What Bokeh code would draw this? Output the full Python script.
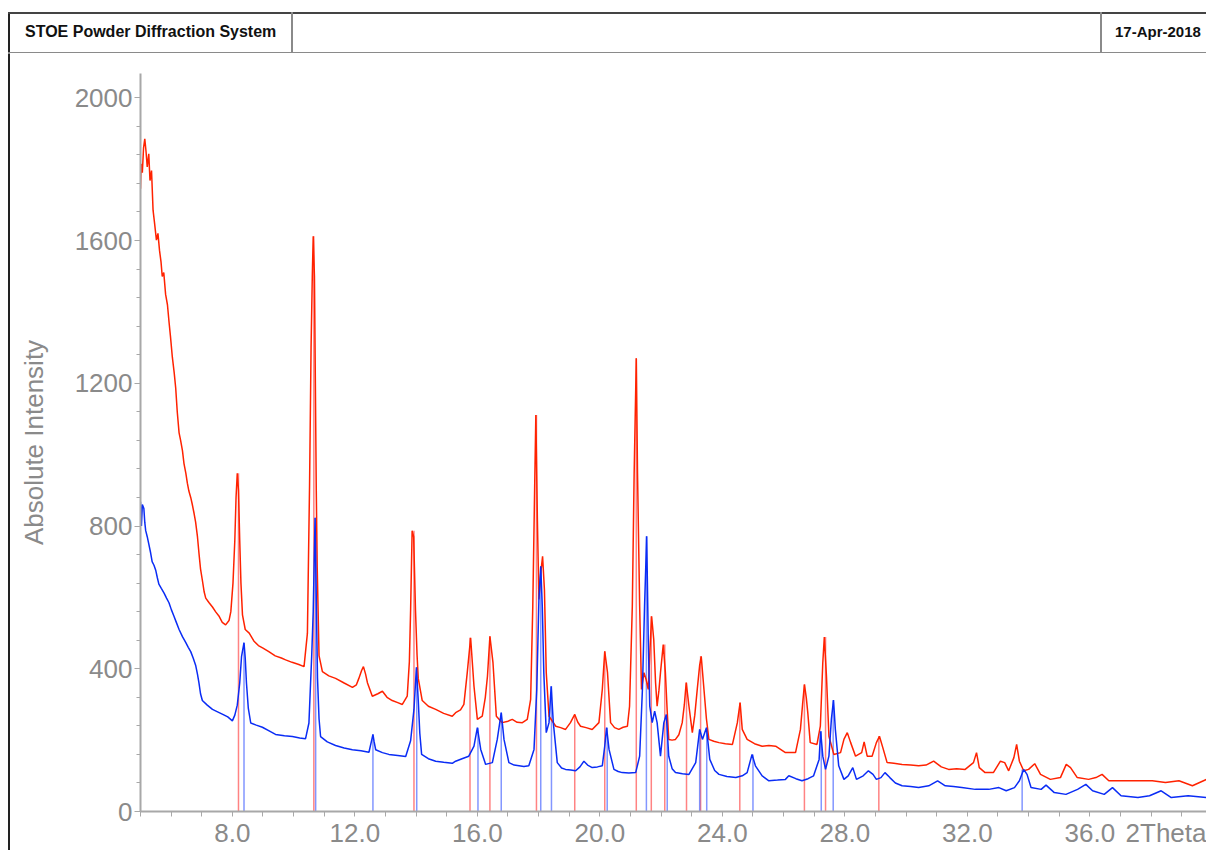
from bokeh.plotting import figure
from bokeh.models import Range1d, FixedTicker, PrintfTickFormatter, Div
from bokeh.layouts import row, column
from bokeh.embed import file_html
from bokeh.resources import INLINE

# ---------------- data ----------------
red_x = [5.00, 5.02, 5.06, 5.10, 5.14, 5.18, 5.22, 5.27, 5.31, 5.36, 5.41, 5.46, 5.52, 5.57, 5.62, 5.67,
         5.71, 5.76, 5.82, 5.88, 5.93, 5.98, 6.04, 6.10, 6.15, 6.20, 6.26, 6.31, 6.37, 6.42, 6.48, 6.53,
         6.58, 6.64, 6.69, 6.75, 6.80, 6.86, 6.91, 6.96, 7.02, 7.08, 7.13, 7.24, 7.35, 7.45, 7.56, 7.67,
         7.78, 7.89, 7.95, 8.02, 8.08, 8.12, 8.16, 8.20, 8.24, 8.28, 8.33, 8.42, 8.55, 8.70, 8.85, 9.00,
         9.19, 9.40, 9.60, 9.74, 9.95, 10.17, 10.34, 10.45, 10.52, 10.57, 10.61, 10.64, 10.68, 10.71, 10.74,
         10.77, 10.83, 10.94, 11.15, 11.37, 11.65, 11.92, 12.05, 12.13, 12.22, 12.28, 12.35, 12.41, 12.57,
         12.75, 12.90, 13.05, 13.22, 13.40, 13.55, 13.71, 13.78, 13.82, 13.87, 13.92, 13.98, 14.03, 14.07,
         14.20, 14.40, 14.64, 14.90, 15.18, 15.29, 15.45, 15.56, 15.67, 15.78, 15.89, 16.00, 16.16, 16.26,
         16.33, 16.41, 16.51, 16.62, 16.81, 16.97, 17.14, 17.30, 17.47, 17.63, 17.74, 17.81, 17.87, 17.91,
         17.96, 18.01, 18.07, 18.13, 18.19, 18.25, 18.34, 18.56, 18.72, 18.88, 19.04, 19.18, 19.28, 19.37,
         19.55, 19.75, 19.97, 20.08, 20.16, 20.25, 20.35, 20.48, 20.62, 20.76, 20.90, 20.97, 21.06, 21.12,
         21.19, 21.23, 21.30, 21.36, 21.44, 21.51, 21.58, 21.64, 21.69, 21.76, 21.82, 21.87, 21.93, 21.98,
         22.07, 22.14, 22.20, 22.25, 22.36, 22.47, 22.58, 22.69, 22.76, 22.82, 22.91, 23.02, 23.10, 23.18,
         23.26, 23.31, 23.40, 23.48, 23.56, 23.72, 23.89, 24.10, 24.33, 24.49, 24.58, 24.65, 24.81, 25.05,
         25.30, 25.52, 25.74, 26.06, 26.39, 26.55, 26.62, 26.68, 26.74, 26.79, 26.87, 27.09, 27.20, 27.28,
         27.33, 27.40, 27.48, 27.64, 27.86, 27.97, 28.08, 28.19, 28.35, 28.55, 28.63, 28.73, 28.89, 29.03,
         29.13, 29.24, 29.38, 29.60, 29.87, 30.15, 30.41, 30.65, 30.90, 31.15, 31.39, 31.65, 31.93, 32.20,
         32.30, 32.39, 32.58, 32.85, 33.08, 33.22, 33.35, 33.52, 33.61, 33.70, 33.84, 34.00, 34.20, 34.39,
         34.71, 35.04, 35.23, 35.37, 35.59, 35.96, 36.20, 36.40, 36.62, 37.06, 37.49, 38.04, 38.47, 38.91,
         39.35, 39.81]
red_y = [1745, 1815, 1790, 1860, 1885, 1850, 1806, 1843, 1768, 1796, 1685, 1648, 1601, 1620, 1573, 1540,
         1499, 1510, 1449, 1420, 1373, 1330, 1273, 1230, 1186, 1120, 1061, 1040, 1011, 975, 948, 920,
         898, 880, 861, 835, 811, 770, 723, 680, 648, 615, 598, 585, 573, 560, 548, 530,
         523, 535, 560, 640, 760, 880, 948, 900, 760, 640, 551, 510, 500, 478, 465, 458,
         448, 436, 430, 425, 418, 412, 406, 499, 911, 1300, 1500, 1612, 1500, 1200, 900,
         686, 437, 392, 380, 373, 360, 348, 355, 373, 395, 406, 385, 361, 323,
         330, 337, 320, 311, 305, 300, 323, 420, 563, 787, 770, 563, 440, 373,
         311, 295, 286, 275, 267, 277, 285, 300, 389, 487, 351, 258, 267, 320,
         379, 491, 417, 267, 249, 252, 258, 250, 249, 258, 314, 575, 901, 1111,
         818, 594, 668, 715, 622, 389, 267, 239, 235, 230, 249, 272, 250, 239,
         235, 230, 249, 342, 449, 389, 249, 235, 230, 236, 239, 295, 575, 948,
         1270, 948, 575, 342, 389, 370, 342, 460, 547, 482, 360, 295, 340, 389,
         468, 389, 280, 202, 200, 202, 215, 249, 300, 361, 295, 221, 270, 342,
         410, 435, 342, 260, 202, 197, 193, 190, 188, 249, 305, 230, 202, 190,
         183, 185, 183, 165, 165, 230, 300, 356, 320, 277, 193, 188, 239, 417,
         489, 379, 211, 160, 165, 202, 221, 193, 155, 165, 195, 155, 155, 193,
         211, 179, 137, 135, 132, 130, 128, 130, 141, 125, 118, 120, 118, 137,
         165, 123, 109, 109, 141, 137, 114, 151, 188, 141, 114, 118, 134, 104,
         90, 95, 132, 123, 95, 90, 95, 104, 86, 86, 86, 86, 81, 86,
         72, 90]

blue_x = [5.00, 5.03, 5.06, 5.11, 5.14, 5.17, 5.22, 5.27, 5.33, 5.38, 5.44, 5.50, 5.55, 5.60, 5.68, 5.77,
          5.85, 5.93, 6.01, 6.09, 6.17, 6.26, 6.37, 6.48, 6.56, 6.64, 6.72, 6.80, 6.86, 6.91, 6.96, 7.02,
          7.18, 7.35, 7.50, 7.67, 7.85, 8.00, 8.08, 8.16, 8.24, 8.30, 8.38, 8.42, 8.46, 8.52, 8.60, 8.78,
          8.98, 9.20, 9.41, 9.70, 9.96, 10.20, 10.39, 10.50, 10.59, 10.64, 10.70, 10.74, 10.78, 10.83,
          10.88, 11.10, 11.37, 11.65, 11.92, 12.20, 12.46, 12.55, 12.59, 12.63, 12.68, 12.90, 13.11, 13.40,
          13.66, 13.82, 13.93, 14.01, 14.07, 14.12, 14.18, 14.40, 14.64, 14.90, 15.18, 15.29, 15.50, 15.72,
          15.89, 16.00, 16.11, 16.27, 16.49, 16.65, 16.78, 16.87, 17.03, 17.20, 17.36, 17.52, 17.68, 17.85,
          17.94, 18.01, 18.07, 18.12, 18.17, 18.25, 18.34, 18.41, 18.48, 18.61, 18.75, 18.88, 19.05, 19.21,
          19.35, 19.48, 19.60, 19.75, 19.92, 20.08, 20.16, 20.22, 20.30, 20.46, 20.60, 20.73, 20.95, 21.17,
          21.30, 21.39, 21.46, 21.53, 21.58, 21.63, 21.71, 21.79, 21.87, 21.98, 22.09, 22.17, 22.25, 22.36,
          22.47, 22.70, 22.91, 23.13, 23.26, 23.35, 23.48, 23.59, 23.75, 23.89, 24.15, 24.44, 24.65, 24.81,
          24.97, 25.08, 25.30, 25.52, 25.80, 26.06, 26.17, 26.40, 26.60, 26.80, 26.98, 27.09, 27.16, 27.21,
          27.28, 27.37, 27.48, 27.56, 27.63, 27.69, 27.80, 27.97, 28.11, 28.26, 28.38, 28.60, 28.77, 28.92,
          29.03, 29.18, 29.31, 29.47, 29.65, 29.87, 30.15, 30.41, 30.74, 31.03, 31.28, 31.55, 31.82, 32.26,
          32.70, 33.03, 33.27, 33.54, 33.70, 33.84, 33.95, 34.08, 34.41, 34.57, 34.84, 35.22, 35.60, 35.87,
          36.09, 36.47, 36.74, 37.02, 37.57, 37.95, 38.33, 38.66, 39.21, 39.81]
blue_y = [868, 800, 860, 849, 810, 787, 770, 750, 725, 700, 690, 675, 655, 637, 625, 612,
          598, 585, 565, 548, 530, 510, 490, 473, 460, 448, 430, 410, 385, 360, 330, 311,
          298, 286, 280, 273, 265, 254, 270, 298, 360, 435, 473, 430, 360, 290, 248, 242,
          236, 226, 216, 212, 210, 206, 204, 248, 435, 560, 823, 598, 374, 260,
          210, 195, 185, 178, 173, 170, 166, 200, 216, 195, 173, 165, 160, 157,
          154, 198, 286, 404, 311, 220, 160, 148, 141, 138, 135, 141, 148, 155,
          183, 235, 174, 132, 137, 202, 277, 202, 137, 130, 128, 126, 128, 174,
          342, 594, 687, 575, 389, 221, 249, 351, 249, 137, 122, 118, 116, 114,
          125, 141, 130, 123, 125, 128, 183, 235, 174, 118, 112, 109, 108, 109,
          155, 342, 575, 771, 482, 295, 249, 281, 249, 155, 249, 272, 155, 120,
          109, 106, 104, 137, 230, 202, 235, 146, 115, 104, 98, 95, 100, 109,
          160, 128, 100, 86, 88, 90, 100, 92, 86, 92, 100, 128, 146, 225,
          155, 118, 155, 258, 312, 230, 128, 90, 100, 123, 90, 100, 114, 104,
          90, 95, 109, 95, 80, 72, 70, 67, 72, 86, 72, 70, 67, 62,
          62, 67, 58, 67, 86, 118, 104, 67, 62, 74, 53, 48, 62, 76,
          58, 48, 67, 44, 39, 44, 58, 39, 44, 39]

# reflection markers (position, intensity)
red_peak_x = [8.20, 10.66, 13.93, 15.76, 16.41, 17.93, 19.18, 20.16, 21.19, 21.68, 22.12, 22.83, 23.29,
              24.57, 26.68, 27.37, 29.11]
red_peak_y = [948, 1612, 787, 487, 491, 1111, 272, 449, 1270, 547, 468, 361, 435, 305, 356, 489, 211]
blue_peak_x = [8.38, 10.72, 12.59, 14.02, 16.02, 16.78, 18.07, 18.42, 20.24, 21.52, 22.20, 23.26, 23.49,
               25.00, 27.23, 27.62, 33.79]
blue_peak_y = [473, 823, 216, 404, 235, 277, 687, 351, 235, 771, 272, 230, 235, 160, 225, 312, 118]

x_label_ticks = [8, 12, 16, 20, 24, 28, 32, 36]
x_minor_ticks = list(range(5, 40))
x_unit_tick = 38.5
y_major_ticks = [0, 400, 800, 1200, 1600, 2000]
y_minor_ticks = list(range(0, 2001, 80))

title_text = "STOE Powder Diffraction System"
date_text = "17-Apr-2018"
y_label = "Absolute Intensity"
x_label = "2Theta"

# ---------------- figure ----------------
FONT = "Liberation Sans"
GREY = "#8a8a8a"
AX = "#a8a8a8"

p = figure(width=1196, height=797, output_backend="svg", toolbar_location=None,
           x_range=Range1d(5.0, 39.81), y_range=Range1d(0, 2068),
           min_border_left=130, min_border_right=0, min_border_top=20, min_border_bottom=38)
p.outline_line_color = None
p.grid.visible = False

for ax in (p.xaxis[0], p.yaxis[0]):
    ax.axis_line_color = AX
    ax.axis_line_width = 2
    ax.major_tick_line_color = AX
    ax.minor_tick_line_color = AX
    ax.major_tick_line_width = 1
    ax.minor_tick_line_width = 1
    ax.major_tick_in = 0
    ax.minor_tick_in = 0
    ax.major_label_text_font = FONT
    ax.major_label_text_font_size = "26px"
    ax.major_label_text_color = GREY

xa = p.xaxis[0]
xa.ticker = FixedTicker(ticks=x_label_ticks + [x_unit_tick], minor_ticks=x_minor_ticks)
xa.formatter = PrintfTickFormatter(format="%.1f")
xa.major_label_overrides = {x_unit_tick: x_label}
xa.major_tick_line_color = None
xa.major_tick_out = 5
xa.minor_tick_out = 5
xa.major_label_standoff = 1

ya = p.yaxis[0]
ya.ticker = FixedTicker(ticks=y_major_ticks, minor_ticks=y_minor_ticks)
ya.major_tick_out = 6
ya.minor_tick_out = 4
ya.major_label_standoff = 2
ya.axis_label = y_label
ya.axis_label_text_font = FONT
ya.axis_label_text_font_size = "26px"
ya.axis_label_text_font_style = "normal"
ya.axis_label_text_color = GREY
ya.axis_label_standoff = 23

# reflection sticks
p.segment(x0=red_peak_x, y0=0, x1=red_peak_x, y1=red_peak_y, line_color="#ff3030", line_alpha=0.6, line_width=1.5)
p.segment(x0=blue_peak_x, y0=0, x1=blue_peak_x, y1=blue_peak_y, line_color="#3050ff", line_alpha=0.6, line_width=1.5)

# patterns
p.line(red_x, red_y, line_color="#ff2200", line_width=1.5)
p.line(blue_x, blue_y, line_color="#0a2cf5", line_width=1.5)

# ---------------- header / frame (HTML) ----------------
TXT = "position:absolute;top:23px;line-height:18px;font-family:'Liberation Sans',Arial,sans-serif;" \
      "font-weight:bold;color:#111;white-space:nowrap;"
header_html = (
    '<div style="position:relative;width:1196px;height:53px;overflow:hidden;">'
    '<div style="position:absolute;left:0;top:12px;width:1196px;height:1.5px;background:#444;"></div>'
    '<div style="position:absolute;left:0;top:52px;width:1196px;height:1.5px;background:#8a8a8a;"></div>'
    '<div style="position:absolute;left:281px;top:12px;width:1.5px;height:41px;background:#8a8a8a;"></div>'
    '<div style="position:absolute;left:1090px;top:12px;width:1.5px;height:41px;background:#8a8a8a;"></div>'
    f'<div style="{TXT}left:15px;font-size:16px;">{title_text}</div>'
    f'<div style="{TXT}left:1105px;font-size:15px;">{date_text}</div>'
    '</div>'
)
header = Div(text=header_html, width=1196, height=53, margin=0)

strip_html = (
    '<div style="position:relative;width:10px;height:850px;overflow:hidden;">'
    '<div style="position:absolute;left:8px;top:12px;width:1.5px;height:838px;background:#222;"></div>'
    '<div style="position:absolute;left:8px;top:12px;width:2px;height:1.5px;background:#444;"></div>'
    '<div style="position:absolute;left:8px;top:52px;width:2px;height:1.5px;background:#8a8a8a;"></div>'
    '</div>'
)
strip = Div(text=strip_html, width=10, height=850, margin=0)

layout = row(strip, column(header, p, spacing=0), spacing=0)

open("out.html", "w").write(file_html(layout, INLINE))
